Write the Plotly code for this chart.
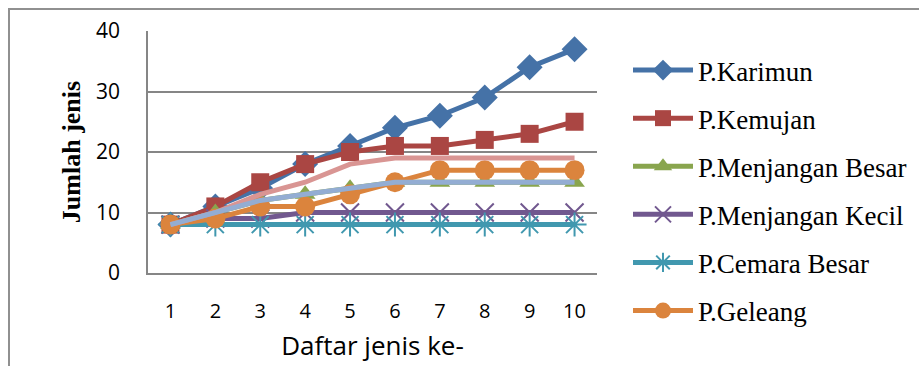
import plotly.graph_objects as go

categories = [1, 2, 3, 4, 5, 6, 7, 8, 9, 10]
karimun = [8, 11, 14, 18, 21, 24, 26, 29, 34, 37]
kemujan = [8, 11, 15, 18, 20, 21, 21, 22, 23, 25]
menjangan_besar = [8, 10, 12, 13, 14, 15, 15, 15, 15, 15]
menjangan_kecil = [8, 9, 9, 10, 10, 10, 10, 10, 10, 10]
cemara_besar = [8, 8, 8, 8, 8, 8, 8, 8, 8, 8]
geleang = [8, 9, 11, 11, 13, 15, 17, 17, 17, 17]
extra_pink = [8, 10, 13, 15, 18, 19, 19, 19, 19, 19]
extra_blue = [8, 10, 12, 13, 14, 15, 15, 15, 15, 15]

x = [str(c) for c in categories]
fig = go.Figure()

def add(name, y, color, symbol, size, open_sym=False, show=True, markers=True):
    marker = dict(symbol=symbol, size=size, color=color)
    if open_sym:
        marker["line"] = dict(color=color, width=2)
    fig.add_trace(go.Scatter(
        x=x, y=y, name=name, mode="lines+markers" if markers else "lines",
        line=dict(color=color, width=5), marker=marker,
        showlegend=show, legendgroup=name))

add("P.Karimun", karimun, "#4572A7", "diamond", 20)
add("P.Kemujan", kemujan, "#AA4643", "square", 18)
add("P.Menjangan Besar", menjangan_besar, "#89A54E", "triangle-up", 18)
add("P.Menjangan Kecil", menjangan_kecil, "#71588F", "x-thin-open", 18, open_sym=True)
add("P.Cemara Besar", cemara_besar, "#4198AF", "asterisk-open", 20, open_sym=True)
add("P.Geleang", geleang, "#DB843D", "circle", 20)
add("s7", extra_pink, "#D99593", "circle", 1, show=False, markers=False)
add("s8", extra_blue, "#93ADD3", "circle", 1, show=False, markers=False)

fig.update_layout(
    width=919, height=366,
    margin=dict(l=148, r=322, t=31, b=93, autoexpand=False),
    paper_bgcolor="white", plot_bgcolor="white",
    showlegend=True,
    legend=dict(xref="container", yref="container", x=628/919, xanchor="left",
                y=1 - 46/366, yanchor="top", maxheight=366,
                font=dict(family="Liberation Serif", size=27, color="black"),
                tracegroupgap=10, bgcolor="rgba(0,0,0,0)", itemwidth=60),
    xaxis=dict(type="category", range=[-0.5, 9.5], showgrid=False, showline=True,
               linecolor="#868686", linewidth=1.5, ticks="",
               tickfont=dict(family="Open Sans", size=20, color="black"),
               ticklabelstandoff=19, automargin=False,
               title=dict(text="Daftar jenis ke-", font=dict(family="Open Sans", size=26, color="black"),
                          standoff=14)),
    yaxis=dict(range=[0, 40], dtick=10, showgrid=True, gridcolor="#868686", gridwidth=1.5,
               showline=True, linecolor="#868686", linewidth=1.5, zeroline=False, ticks="",
               tickfont=dict(family="Open Sans", size=21, color="black"), ticklabelstandoff=22,
               automargin=False,
               title=dict(text="<b>Jumlah jenis</b>",
                          font=dict(family="Liberation Serif", size=26, color="black"), standoff=8)),
    shapes=[dict(type="rect", xref="paper", yref="paper", x0=-139/449, x1=(940-148)/449,
                 y0=-2, y1=(273-9)/242, line=dict(color="#909090", width=2))],
)

fig.write_html("out.html", config={"displayModeBar": False},
               post_script="document.body.style.margin='0px';")
